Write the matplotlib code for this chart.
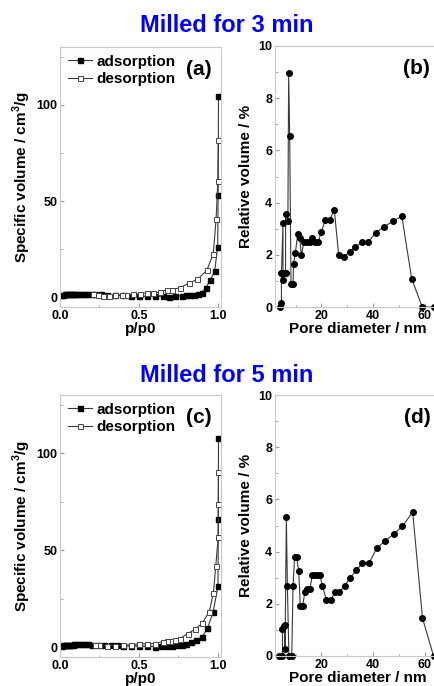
import matplotlib
matplotlib.use("Agg")
import matplotlib.pyplot as plt
from matplotlib.ticker import MultipleLocator

plt.rcParams["font.family"] = ["Liberation Sans", "DejaVu Sans"]
plt.rcParams["font.weight"] = "bold"
plt.rcParams["mathtext.fontset"] = "custom"
plt.rcParams["mathtext.rm"] = "Liberation Sans:bold"
plt.rcParams["mathtext.bf"] = "Liberation Sans:bold"

# ---------------------------------------------------------------------------
# Isotherms, milled 3 min
# ---------------------------------------------------------------------------
ads3_p = [0.01, 0.02, 0.03, 0.04, 0.05, 0.06, 0.07, 0.08, 0.09, 0.10, 0.12,
          0.14, 0.16, 0.18, 0.20, 0.22, 0.26, 0.30, 0.35, 0.40, 0.45, 0.50,
          0.55, 0.60, 0.65, 0.69, 0.73, 0.77, 0.80, 0.825, 0.85, 0.875, 0.90,
          0.925, 0.95, 0.98, 0.999, 1.002, 1.004]
ads3_v = [1.0, 1.3, 1.5, 1.6, 1.7, 1.8, 1.8, 1.9, 1.9, 2.0, 2.0,
          2.0, 2.0, 2.0, 1.9, 1.8, 1.6, 1.4, 1.2, 1.0, 0.9, 0.6,
          0.5, 0.6, 0.5, 0.4, 0.6, 0.9, 1.0, 1.0, 1.2, 1.7, 2.4,
          5.0, 8.8, 13.6, 26.4, 53.4, 104.7]
des3_p = [1.003, 1.0, 0.989, 0.971, 0.93, 0.87, 0.817, 0.76, 0.708, 0.676,
          0.634, 0.59, 0.55, 0.51, 0.465, 0.42, 0.39, 0.35, 0.31, 0.27,
          0.24, 0.21]
des3_v = [81.7, 60.3, 40.8, 22.6, 14.0, 9.3, 7.4, 5.0, 4.0, 4.0,
          2.7, 2.4, 2.4, 1.9, 1.6, 1.2, 1.2, 1.0, 0.8, 0.8,
          1.2, 1.6]

# ---------------------------------------------------------------------------
# Isotherms, milled 5 min
# ---------------------------------------------------------------------------
ads5_p = [0.01, 0.02, 0.03, 0.04, 0.05, 0.06, 0.07, 0.08, 0.09, 0.10, 0.12,
          0.14, 0.16, 0.18, 0.20, 0.24, 0.28, 0.32, 0.36, 0.40, 0.45, 0.50,
          0.55, 0.60, 0.64, 0.68, 0.71, 0.74, 0.77, 0.80, 0.828, 0.862, 0.90,
          0.934, 0.97, 1.001, 1.003, 1.004]
ads5_v = [0.8, 1.0, 1.1, 1.2, 1.3, 1.3, 1.4, 1.4, 1.5, 1.5, 1.5,
          1.5, 1.5, 1.5, 1.4, 1.3, 1.2, 1.1, 1.0, 0.8, 0.7, 0.6,
          0.5, 0.4, 0.6, 0.8, 0.9, 1.0, 1.3, 1.9, 2.6, 3.6, 5.3,
          9.7, 18.1, 31.6, 66.2, 107.6]
des5_p = [1.004, 1.003, 1.002, 0.987, 0.972, 0.946, 0.90, 0.855, 0.81, 0.76,
          0.73, 0.70, 0.68, 0.65, 0.60, 0.55, 0.50, 0.45, 0.40, 0.35,
          0.30, 0.25, 0.22]
des5_v = [90.3, 73.6, 56.6, 42.0, 28.1, 18.3, 12.3, 9.3, 7.1, 4.5,
          4.0, 3.1, 3.0, 2.9, 1.9, 1.9, 1.7, 1.3, 1.0, 0.8,
          0.9, 1.1, 1.3]

# ---------------------------------------------------------------------------
# Pore size distributions
# ---------------------------------------------------------------------------
pore3_d = [3.85, 4.5, 4.5, 5.1, 5.1, 5.6, 6.1, 6.1, 7.0, 7.3, 7.7, 8.2, 9.0,
           9.2, 9.9, 10.8, 11.6, 12.2, 13.2, 14.4, 15.4, 16.4, 17.4, 18.7,
           20.0, 21.5, 23.2, 25.0, 26.7, 28.7, 30.9, 33.2, 35.8, 38.2, 41.2,
           44.2, 47.6, 51.2, 55.0, 59.1, 63.5]
pore3_v = [0.0, 0.15, 1.32, 3.22, 1.02, 1.32, 1.32, 3.58, 3.3, 8.95, 6.56,
           0.9, 0.9, 1.64, 2.07, 2.79, 2.66, 1.98, 2.48, 2.48, 2.48, 2.65,
           2.48, 2.48, 2.89, 3.33, 3.33, 3.73, 1.99, 1.92, 2.12, 2.3, 2.5,
           2.5, 2.85, 3.07, 3.28, 3.48, 1.09, 0.0, 0.0]

pore5_d = [3.6, 4.9, 4.9, 5.4, 5.8, 5.9, 6.4, 6.8, 7.4, 8.5, 9.0, 9.6, 10.4,
           11.2, 11.8, 12.7, 13.6, 14.5, 15.5, 16.5, 17.6, 18.6, 19.4, 20.4,
           21.9, 23.6, 25.3, 27.0, 29.0, 31.0, 33.5, 35.9, 38.5, 41.4, 44.6,
           48.0, 51.4, 55.4, 59.2, 63.5]
pore5_v = [0.0, 0.0, 1.03, 1.15, 1.19, 0.26, 5.33, 2.69, 0.0, 0.0, 2.69,
           3.78, 3.78, 3.27, 1.92, 1.92, 2.44, 2.56, 2.56, 3.1, 3.1, 3.1,
           3.1, 2.69, 2.15, 2.15, 2.44, 2.44, 2.69, 2.97, 3.28, 3.56, 3.56,
           4.12, 4.4, 4.67, 4.97, 5.51, 1.45, 0.0]

titles = ["Milled for 3 min", "Milled for 5 min"]
panel_tags = [("(a)", "(b)"), ("(c)", "(d)")]

W, H = 435, 686
LINE = "#3a3a3a"
FRAME = "#c8c8c8"


def px_axes(fig, left, top, right, bottom):
    """Add axes from pixel edges (top-left origin)."""
    return fig.add_axes([left / W, (H - bottom) / H, (right - left) / W,
                         (bottom - top) / H])


def style_axes(ax):
    for sp in ax.spines.values():
        sp.set_color(FRAME)
        sp.set_linewidth(0.8)
    ax.tick_params(which="both", direction="in", color="#9a9a9a",
                   labelsize=9, pad=2)
    ax.tick_params(which="major", length=3)
    ax.tick_params(which="minor", length=1.8)
    for lab in ax.get_xticklabels() + ax.get_yticklabels():
        lab.set_fontweight("bold")


def draw_isotherm(ax, ads_p, ads_v, des_p, des_v, tag):
    ax.plot(ads_p, ads_v, color=LINE, lw=0.8, marker="s", ms=3.6,
            mfc="black", mec="black", label="adsorption")
    ax.plot(des_p, des_v, color=LINE, lw=0.8, marker="s", ms=3.6,
            mfc="white", mec="#444444", mew=0.7, label="desorption")
    ax.set_xlim(0, 1.02)
    ax.set_ylim(-5, 130)
    ax.xaxis.set_major_locator(MultipleLocator(0.5))
    ax.xaxis.set_minor_locator(MultipleLocator(0.25))
    ax.xaxis.set_major_formatter(plt.FuncFormatter(lambda v, _: f"{v:.1f}"))
    ax.yaxis.set_major_locator(MultipleLocator(50))
    ax.yaxis.set_minor_locator(MultipleLocator(25))
    ax.set_xlabel("p/p0", fontsize=11, fontweight="bold", labelpad=0)
    ax.set_ylabel(r"Specific volume / cm$^{\mathbf{3}}$/g", fontsize=11,
                  fontweight="bold", labelpad=2)
    leg = ax.legend(loc="upper left", frameon=False, fontsize=11,
                    handlelength=1.6, handletextpad=0.3, labelspacing=0.25,
                    borderaxespad=0.2, borderpad=0.3)
    for t in leg.get_texts():
        t.set_fontweight("bold")
    ax.text(0.86, 0.915, tag, transform=ax.transAxes, ha="center",
            va="center", fontsize=15, fontweight="bold")
    style_axes(ax)


def draw_pores(ax, d, v, tag):
    ax.plot(d, v, color=LINE, lw=0.8, marker="o", ms=4.0,
            mfc="black", mec="black", clip_on=False)
    ax.set_xlim(2, 66)
    ax.set_ylim(0, 10)
    ax.xaxis.set_major_locator(MultipleLocator(20))
    ax.xaxis.set_minor_locator(MultipleLocator(10))
    ax.yaxis.set_major_locator(MultipleLocator(2))
    ax.yaxis.set_minor_locator(MultipleLocator(1))
    ax.set_xlabel("Pore diameter / nm", fontsize=11, fontweight="bold",
                  labelpad=0)
    ax.set_ylabel("Relative volume / %", fontsize=11, fontweight="bold",
                  labelpad=4)
    ax.text(0.86, 0.915, tag, transform=ax.transAxes, ha="center",
            va="center", fontsize=15, fontweight="bold")
    style_axes(ax)


fig = plt.figure(figsize=(W / 100, H / 100), dpi=100)

ax_a = px_axes(fig, 60, 47, 221, 307)
ax_b = px_axes(fig, 275, 46, 440, 307)
ax_c = px_axes(fig, 60, 395, 221, 657)
ax_d = px_axes(fig, 275, 395, 440, 656)

draw_isotherm(ax_a, ads3_p, ads3_v, des3_p, des3_v, panel_tags[0][0])
draw_pores(ax_b, pore3_d, pore3_v, panel_tags[0][1])
draw_isotherm(ax_c, ads5_p, ads5_v, des5_p, des5_v, panel_tags[1][0])
draw_pores(ax_d, pore5_d, pore5_v, panel_tags[1][1])

fig.text(227 / W, 1 - 25 / H, titles[0], ha="center", va="center",
         fontsize=17, fontweight="bold", color="#0000ff")
fig.text(227 / W, 1 - 375 / H, titles[1], ha="center", va="center",
         fontsize=17, fontweight="bold", color="#0000ff")

fig.savefig("out.png", dpi=100)
